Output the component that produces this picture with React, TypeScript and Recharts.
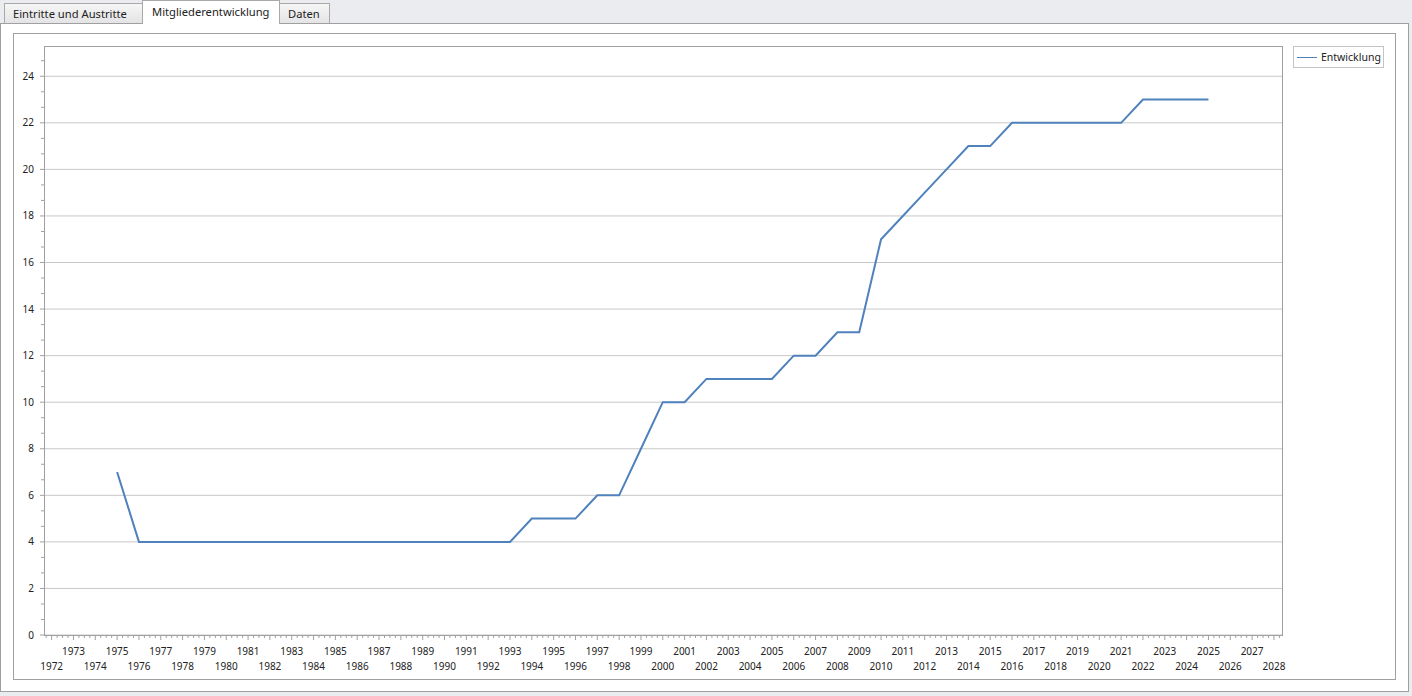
import { LineChart, Line, XAxis, YAxis, ReferenceLine } from 'recharts'

const years = [
  1975, 1976, 1977, 1978, 1979, 1980, 1981, 1982, 1983, 1984, 1985, 1986, 1987,
  1988, 1989, 1990, 1991, 1992, 1993, 1994, 1995, 1996, 1997, 1998, 1999, 2000,
  2001, 2002, 2003, 2004, 2005, 2006, 2007, 2008, 2009, 2010, 2011, 2012, 2013,
  2014, 2015, 2016, 2017, 2018, 2019, 2020, 2021, 2022, 2023, 2024, 2025,
]
const members = [
  7, 4, 4, 4, 4, 4, 4, 4, 4, 4, 4, 4, 4,
  4, 4, 4, 4, 4, 4, 5, 5, 5, 6, 6, 8, 10,
  10, 11, 11, 11, 11, 12, 12, 13, 13, 17, 18, 19, 20,
  21, 21, 22, 22, 22, 22, 22, 22, 23, 23, 23, 23,
]
const yearTicks = [
  1972, 1973, 1974, 1975, 1976, 1977, 1978, 1979, 1980, 1981, 1982, 1983, 1984,
  1985, 1986, 1987, 1988, 1989, 1990, 1991, 1992, 1993, 1994, 1995, 1996, 1997,
  1998, 1999, 2000, 2001, 2002, 2003, 2004, 2005, 2006, 2007, 2008, 2009, 2010,
  2011, 2012, 2013, 2014, 2015, 2016, 2017, 2018, 2019, 2020, 2021, 2022, 2023,
  2024, 2025, 2026, 2027, 2028,
]
const valueTicks = [0, 2, 4, 6, 8, 10, 12, 14, 16, 18, 20, 22, 24]
const seriesName = 'Entwicklung'
const tabs = ['Eintritte und Austritte', 'Mitgliederentwicklung', 'Daten']

const data = years.map((year, i) => ({ year, members: members[i] }))

// quarter-year minor ticks, one extra on each side of the labelled years
const xTicks: number[] = [yearTicks[0] - 0.25]
yearTicks.forEach((y, i) => {
  xTicks.push(y)
  if (i < yearTicks.length - 1) xTicks.push(y + 0.25, y + 0.5, y + 0.75)
})
xTicks.push(yearTicks[yearTicks.length - 1] + 0.25)

// three minor steps per major step on the value axis
const yTicks: number[] = []
for (let k = 0; k <= 37; k++) yTicks.push((k * 2) / 3)

const axisColor = '#a0a0a0'
const labelFont = { fontFamily: 'Noto Sans', fontSize: 10, fill: '#222' }
const isWhole = (v: number) => Math.abs(v - Math.round(v)) < 1e-6

const XTick = (props: any) => {
  const { x, y, payload } = props
  const v = payload.value as number
  const major = isWhole(v)
  const year = Math.round(v)
  return (
    <g>
      <line x1={x} x2={x} y1={y} y2={y + (major ? 5 : 3)} stroke={axisColor} />
      {major && (
        <text x={x} y={y + (year % 2 ? 20 : 35)} textAnchor="middle" {...labelFont}>
          {year}
        </text>
      )}
    </g>
  )
}

const YTick = (props: any) => {
  const { x, y, payload } = props
  const v = payload.value as number
  const major = isWhole(v) && Math.round(v) % 2 === 0
  return (
    <g>
      <line x1={x - (major ? 4 : 3)} x2={x} y1={y} y2={y} stroke={axisColor} />
      {major && (
        <text x={x - 10} y={y + 3.5} textAnchor="end" {...labelFont}>
          {Math.round(v)}
        </text>
      )}
    </g>
  )
}

const tabStyle = (left: number, width: number, active: boolean): React.CSSProperties => ({
  position: 'absolute',
  left,
  top: active ? 0 : 3,
  width,
  height: active ? 24 : 20,
  boxSizing: 'border-box',
  border: '1px solid #a9a9a9',
  borderBottom: 'none',
  background: active ? '#fff' : 'linear-gradient(#f6f6f6, #e4e4e6)',
  fontFamily: 'Noto Sans',
  fontSize: 11.2,
  color: '#222',
  paddingLeft: active ? 9 : 8,
  lineHeight: active ? '22px' : '19px',
  zIndex: active ? 2 : 1,
  whiteSpace: 'nowrap',
  overflow: 'hidden',
})

export default function App() {
  return (
    <div style={{ position: 'fixed', left: 0, top: 0, width: 1412, height: 696, background: '#ebecef', overflow: 'hidden' }}>
      <div style={tabStyle(4, 139, false)}>{tabs[0]}</div>
      <div style={tabStyle(142, 138, true)}>{tabs[1]}</div>
      <div style={tabStyle(279, 51, false)}>{tabs[2]}</div>

      <div style={{ position: 'absolute', left: 0, top: 23, width: 1409, height: 669, boxSizing: 'border-box', border: '1px solid #a0a0a0', background: '#fff' }} />
      <div style={{ position: 'absolute', left: 13, top: 33, width: 1383, height: 647, boxSizing: 'border-box', border: '1px solid #a0a0a0' }} />

      <div style={{ position: 'absolute', left: 13, top: 33 }}>
        <LineChart width={1383} height={647} data={data} margin={{ top: 13, right: 114, left: 0, bottom: 0 }}>
          <XAxis
            type="number"
            dataKey="year"
            domain={[1971.65, 2028.37]}
            ticks={xTicks}
            interval={0}
            height={45}
            axisLine={false}
            tickLine={false}
            tickSize={0}
            tickMargin={0}
            tick={<XTick />}
          />
          <YAxis
            type="number"
            domain={[0, 25.3]}
            ticks={yTicks}
            interval={0}
            width={31}
            axisLine={false}
            tickLine={false}
            tickSize={0}
            tickMargin={0}
            tick={<YTick />}
          />
          {valueTicks.map((v) => (
            <ReferenceLine key={v} y={v} stroke="#c8c8c8" strokeWidth={1} />
          ))}
          <Line
            type="linear"
            dataKey="members"
            name={seriesName}
            stroke="#4f81bd"
            strokeWidth={2}
            dot={false}
            isAnimationActive={false}
          />
        </LineChart>
      </div>

      <div style={{ position: 'absolute', left: 44, top: 46, width: 1239, height: 590, boxSizing: 'border-box', border: `1px solid ${axisColor}`, pointerEvents: 'none' }} />

      <div style={{ position: 'absolute', left: 1293, top: 46, width: 91, height: 22, boxSizing: 'border-box', border: '1px solid #c4c4c4', background: '#fff', display: 'flex', alignItems: 'center' }}>
        <div style={{ width: 20, height: 1, background: '#4f81bd', marginLeft: 3, marginRight: 4 }} />
        <span style={{ fontFamily: 'Noto Sans', fontSize: 10.5, color: '#222', whiteSpace: 'nowrap' }}>{seriesName}</span>
      </div>
    </div>
  )
}
